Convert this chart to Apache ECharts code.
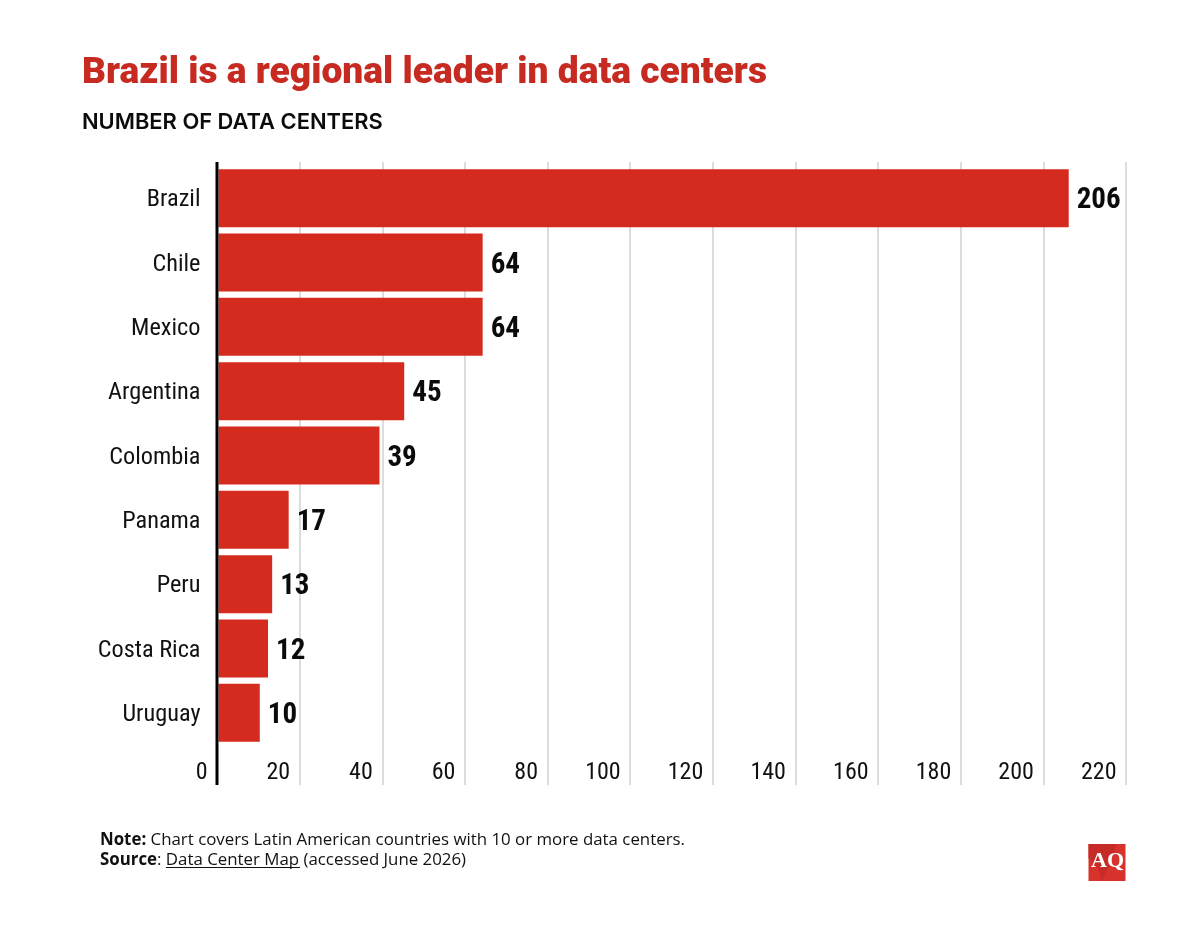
<!DOCTYPE html>
<html><head><meta charset="utf-8">
<style>html,body{margin:0;padding:0;background:#fff}#c{width:1200px;height:926px}</style>
<script src="https://cdn.jsdelivr.net/npm/echarts@6/dist/echarts.min.js"></script></head>
<body><div id="c"></div>
<script>
const categories = ["Brazil","Chile","Mexico","Argentina","Colombia","Panama","Peru","Costa Rica","Uruguay"];
const values = [206,64,64,45,39,17,13,12,10];
const xMax = 220, xStep = 20;
const titleText = "Brazil is a regional leader in data centers";
const subtitleText = "NUMBER OF DATA CENTERS";
const RED = "#d52b1e", NARROW = '"Roboto Condensed"';
const chart = echarts.init(document.getElementById('c'), null, {renderer:'canvas'});
chart.setOption({
  animation:false, backgroundColor:'#fff',
  title:[
    {text:titleText,left:82,top:55,padding:0,textStyle:{fontFamily:'Roboto',fontWeight:900,fontSize:37.2,color:'#c62a20'}},
    {text:subtitleText,left:82,top:111,padding:0,textStyle:{fontFamily:'Inter',fontWeight:600,fontSize:21.9,color:'#0b0b0b'}},
    {text:'{b|Note:} Chart covers Latin American countries with 10 or more data centers.\n{b|Source}: Data Center Map (accessed June 2026)',
     left:100,top:830.5,padding:0,textStyle:{fontFamily:'"Open Sans"',fontWeight:'normal',fontSize:16.85,color:'#111',lineHeight:20,
       rich:{b:{fontFamily:'"Open Sans"',fontWeight:'bold',fontSize:16.85,color:'#111',lineHeight:20}}}}
  ],
  grid:[
    {left:217,width:909,top:162,height:623},
    {left:218.5,width:908,top:166,height:579}
  ],
  xAxis:[
    {gridIndex:0,type:'value',min:0,max:xMax,interval:xStep,position:'bottom',
     axisLine:{show:false},axisTick:{show:false},
     splitLine:{show:true,lineStyle:{color:'#dcdcdc',width:2}},
     axisLabel:{inside:true,margin:0,align:'right',verticalAlign:'bottom',padding:[0,9.5,0,0],fontFamily:NARROW,fontSize:24,color:'#111',showMinLabel:true,showMaxLabel:true}},
    {gridIndex:1,type:'value',min:0,max:xMax,interval:xStep,show:false}
  ],
  yAxis:[
    {gridIndex:0,type:'category',data:[],show:false},
    {gridIndex:1,type:'category',data:categories,inverse:true,
     axisLine:{show:false},axisTick:{show:false},
     axisLabel:{margin:18,verticalAlign:'top',lineHeight:4,fontFamily:NARROW,fontSize:24.3,color:'#111'}}
  ],
  series:[{type:'bar',xAxisIndex:1,yAxisIndex:1,data:values,barWidth:58,itemStyle:{color:RED},z:3,
    label:{show:true,position:'right',distance:8,offset:[0,3],fontFamily:NARROW,fontWeight:'bold',fontSize:29,color:'#0b0b0b'}}],
  graphic:[
    {type:'line',z:10,shape:{x1:217,y1:162,x2:217,y2:785},style:{stroke:'#000',lineWidth:3}},
    {type:'line',z:10,shape:{x1:166,y1:867.5,x2:300,y2:867.5},style:{stroke:'#111',lineWidth:1}},
    {type:'rect',z:10,shape:{x:1088.5,y:844,width:37,height:37},style:{fill:'#d8322c'}},
    {type:'polygon',z:10,shape:{points:[[1088.5,844],[1116,844],[1113,856],[1108,868],[1102,881],[1098,868],[1088.5,858]]},style:{fill:'#c52c27'}},
    {type:'text',z:11,style:{x:1107.5,y:861.5,text:'AQ',align:'center',verticalAlign:'middle',fill:'#fff',font:'bold 22px "Liberation Serif"'}}
  ]
});
</script></body></html>
